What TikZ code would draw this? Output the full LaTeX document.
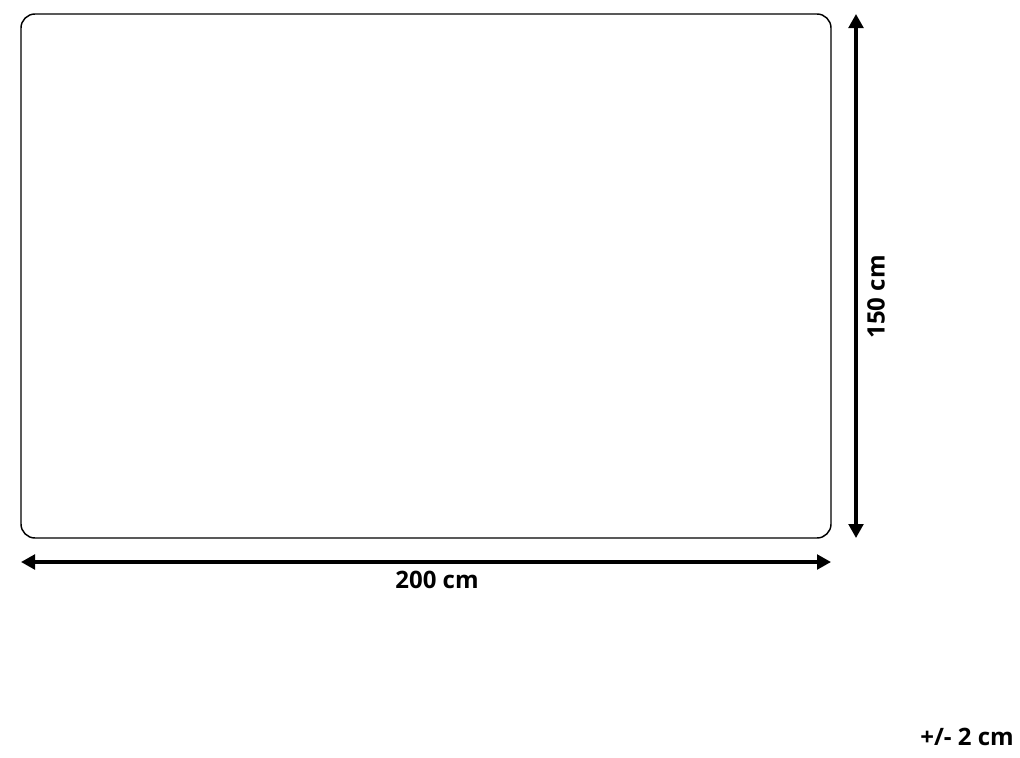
\documentclass[tikz,border=0pt]{standalone}
\usepackage{fontspec}
\setmainfont{Open Sans}
\usetikzlibrary{arrows.meta, positioning}

\begin{document}
\begin{tikzpicture}[x=0.75pt, y=-0.75pt,
  dimarrow/.style={line width=2.4pt, {Triangle[length=10.5pt,width=11pt]}-{Triangle[length=10.5pt,width=11pt]}},
  dimlabel/.style={font=\bfseries\fontsize{18}{21}\selectfont, inner sep=0pt}]
% Define constants
\def\rugL{21}
\def\rugR{831}
\def\rugT{14}
\def\rugB{538}

\useasboundingbox (0,0) rectangle (1020,757);

% Draw the rug outline
\coordinate (rugNW) at (\rugL,\rugT);
\coordinate (rugSE) at (\rugR,\rugB);
\draw[line width=1.1pt, rounded corners=10.5pt] (rugNW) rectangle (rugSE);

% Coordinates for the dimension arrows
\coordinate (widthL) at (\rugL,562);
\coordinate (widthR) at (\rugR,562);
\coordinate (heightT) at (856,\rugT);
\coordinate (heightB) at (856,\rugB);

% Draw dimension arrows
\draw[dimarrow] (widthL) -- (widthR);
\draw[dimarrow] (heightT) -- (heightB);

% Labels
\node[dimlabel] (widthlabel) at (437,580) {200 cm};
\node[dimlabel, rotate=90] (heightlabel) at (876,297) {150 cm};
\node[dimlabel] (tolerance) at (967,737) {+/- 2 cm};

\end{tikzpicture}
\end{document}
